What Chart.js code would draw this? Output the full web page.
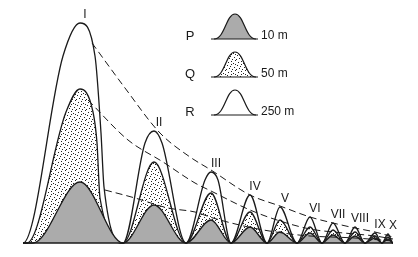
<!DOCTYPE html>
<html>
<head>
<meta charset="utf-8">
<script src="https://cdn.jsdelivr.net/npm/chart.js@4.4.1/dist/chart.umd.min.js"></script>
<style>
  html, body { margin: 0; padding: 0; background: #fff; }
  #wrap { width: 418px; height: 257px; }
</style>
</head>
<body>
<div id="wrap"><canvas id="chart" width="418" height="257"></canvas></div>
<script>
// hump data (x in picture units, heights above the base line)
const humpLabels = ['I', 'II', 'III', 'IV', 'V', 'VI', 'VII', 'VIII', 'IX', 'X'];
const peakX = [80, 154, 211, 250, 280, 310, 333, 355, 375, 388];
const valleyX = [123, 186, 231, 267, 297, 322, 345, 365, 382];
const baseStart = 23;
const baseEnd = 393;
const footP = 33;
const footQ = 27;
const footR = 23;
const heightP = [61, 38, 23, 16, 11, 10, 8, 7, 5, 4];
const heightQ = [154, 81, 50, 31, 23, 16, 13, 11, 7, 6];
const heightR = [220, 112, 71, 48, 36, 26, 20, 16, 10, 9];
// extra outline points (x, height)
const sidesQ = [[66, 131], [93, 131], [97, 100], [100, 45]];
const sidesR = [[63, 187], [95, 187], [101, 110], [104, 56], [145, 100], [162, 100], [205, 63], [218, 63]];

// dashed envelopes
const envRx = [92, 125, 160, 190, 211, 250, 280, 310, 333, 355, 375, 393];
const envRy = [200, 155, 110, 86, 73, 48, 37, 26, 20, 15, 11, 6];
const envQx = [88, 128, 163, 195, 211, 250, 280, 310, 333, 355, 375, 393];
const envQy = [143, 103, 81, 60, 52, 33, 22, 14, 11, 9, 7, 4];
const envPx = [105, 135, 168, 195, 213, 253, 290, 310, 355, 393];
const envPy = [53, 45, 35, 31, 25, 15, 9, 7, 5, 2];

// legend
const legendKeys = ['P', 'Q', 'R'];
const legendText = ['10 m', '50 m', '250 m'];

const ink = '#1a1a1a';
const grey = '#ababab';

function stipple() {
  const c = document.createElement('canvas');
  c.width = 10; c.height = 10;
  const g = c.getContext('2d');
  g.fillStyle = '#fff';
  g.fillRect(0, 0, 10, 10);
  g.fillStyle = '#222';
  const dots = [[1,1],[5,0],[8,2],[3,3],[7,5],[0,6],[4,7],[9,8],[2,9],[6,9],[5,4],[1,4]];
  dots.forEach(d => g.fillRect(d[0], d[1], 1, 1));
  return g.createPattern(c, 'repeat');
}
const dotPattern = stipple();

function humps(foot, heights, sides) {
  const pts = [{x: baseStart, y: 0}, {x: foot, y: 0}];
  heights.forEach((h, i) => {
    pts.push({x: peakX[i], y: h});
    pts.push({x: i < valleyX.length ? valleyX[i] : baseEnd, y: 0});
  });
  pts.push({x: baseEnd, y: 0});
  (sides || []).forEach(s => pts.push({x: s[0], y: s[1]}));
  return pts.sort((a, b) => a.x - b.x);
}

function zipXY(xs, ys) {
  return xs.map((x, i) => ({x: x, y: ys[i]}));
}

const humpDefaults = {
  borderColor: ink,
  borderWidth: 1.3,
  pointRadius: 0,
  cubicInterpolationMode: 'monotone',
  fill: 'origin'
};

const envDefaults = {
  borderColor: ink,
  borderWidth: 1,
  borderDash: [7, 4],
  pointRadius: 0,
  fill: false,
  cubicInterpolationMode: 'monotone',
  order: -1
};

const labelsPlugin = {
  id: 'humpLabels',
  afterDraw(chart) {
    const ctx = chart.ctx;
    const xs = chart.scales.x;
    const ys = chart.scales.y;
    ctx.save();
    ctx.fillStyle = ink;
    ctx.font = '12px "Liberation Sans", Arial, sans-serif';
    ctx.textAlign = 'center';
    ctx.textBaseline = 'middle';
    humpLabels.forEach((t, i) => {
      ctx.fillText(t, xs.getPixelForValue(peakX[i]) + 5, ys.getPixelForValue(heightR[i]) - 8);
    });

    // legend block
    const fills = [grey, dotPattern, '#fff'];
    const bases = [39, 77, 115];
    legendKeys.forEach((k, i) => {
      const b = bases[i];
      const top = b - 25;
      ctx.font = '13px "Liberation Sans", Arial, sans-serif';
      ctx.textAlign = 'center';
      ctx.fillText(k, 190, b - 3);
      ctx.beginPath();
      ctx.moveTo(214, b);
      ctx.bezierCurveTo(225, b, 226, top, 235, top);
      ctx.bezierCurveTo(244, top, 245, b, 256, b);
      ctx.closePath();
      ctx.fillStyle = fills[i];
      ctx.fill();
      ctx.strokeStyle = ink;
      ctx.lineWidth = 1.2;
      ctx.beginPath();
      ctx.moveTo(214, b);
      ctx.bezierCurveTo(225, b, 226, top, 235, top);
      ctx.bezierCurveTo(244, top, 245, b, 256, b);
      ctx.stroke();
      ctx.beginPath();
      ctx.moveTo(211, b);
      ctx.lineTo(258, b);
      ctx.stroke();
      ctx.fillStyle = ink;
      ctx.font = '12px "Liberation Sans", Arial, sans-serif';
      ctx.textAlign = 'left';
      ctx.fillText(legendText[i], 261, b - 3);
    });
    ctx.restore();
  }
};

new Chart(document.getElementById('chart'), {
  type: 'line',
  data: {
    datasets: [
      Object.assign({label: 'P', data: humps(footP, heightP), backgroundColor: grey}, humpDefaults),
      Object.assign({label: 'Q', data: humps(footQ, heightQ, sidesQ), backgroundColor: dotPattern}, humpDefaults),
      Object.assign({label: 'R', data: humps(footR, heightR, sidesR), backgroundColor: '#fff'}, humpDefaults),
      Object.assign({label: 'R env', data: zipXY(envRx, envRy)}, envDefaults),
      Object.assign({label: 'Q env', data: zipXY(envQx, envQy)}, envDefaults),
      Object.assign({label: 'P env', data: zipXY(envPx, envPy)}, envDefaults),
      {
        label: 'base',
        data: [{x: baseStart, y: 0}, {x: baseEnd, y: 0}],
        borderColor: ink,
        borderWidth: 1.6,
        pointRadius: 0,
        fill: false,
        order: -2
      }
    ]
  },
  options: {
    responsive: false,
    animation: false,
    devicePixelRatio: 1,
    layout: { padding: 0 },
    plugins: {
      legend: { display: false },
      tooltip: { enabled: false }
    },
    scales: {
      x: { type: 'linear', min: 0, max: 418, display: false },
      y: { type: 'linear', min: -14, max: 243, display: false }
    }
  },
  plugins: [labelsPlugin]
});
</script>
</body>
</html>
